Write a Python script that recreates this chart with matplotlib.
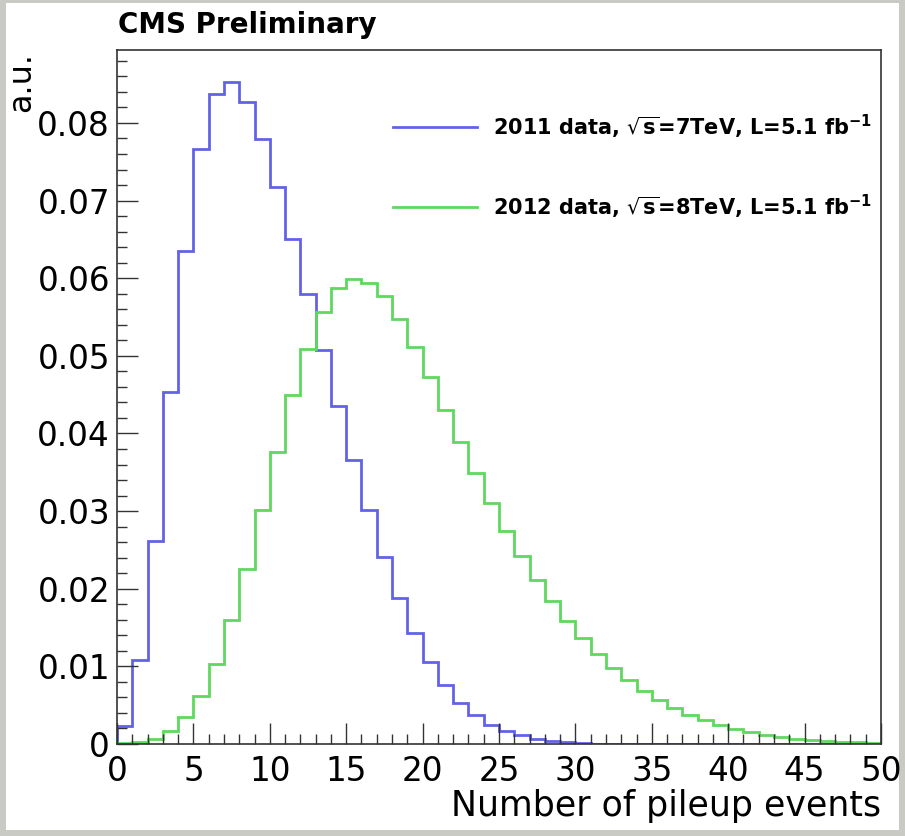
import matplotlib
matplotlib.use("Agg")
import matplotlib.pyplot as plt
from matplotlib.patches import Rectangle
from matplotlib.lines import Line2D
from matplotlib.ticker import MultipleLocator

plt.rcParams['font.family'] = ['DejaVu Sans']
plt.rcParams['mathtext.fontset'] = 'dejavusans'

# ---- data ----
bin_edges = list(range(0, 51))
data_2011 = [0.0023, 0.0108, 0.0261, 0.0454, 0.0635, 0.0767, 0.0837, 0.0853, 0.0827, 0.0779,
             0.0718, 0.0650, 0.0580, 0.0508, 0.0436, 0.0366, 0.0301, 0.0241, 0.0188, 0.0143,
             0.0105, 0.0076, 0.0053, 0.0037, 0.0025, 0.0017, 0.0011, 0.0006, 0.0004, 0.0002,
             0.0001, 0.00006, 0.00003, 0.00002, 0.00001, 0.0, 0.0, 0.0, 0.0, 0.0,
             0.0, 0.0, 0.0, 0.0, 0.0, 0.0, 0.0, 0.0, 0.0, 0.0]
data_2012 = [0.0001, 0.0003, 0.0007, 0.0017, 0.0035, 0.0062, 0.0103, 0.0160, 0.0226, 0.0301,
             0.0376, 0.0450, 0.0509, 0.0557, 0.0587, 0.0599, 0.0594, 0.0577, 0.0547, 0.0512,
             0.0473, 0.0430, 0.0389, 0.0349, 0.0310, 0.0274, 0.0242, 0.0211, 0.0184, 0.0158,
             0.0136, 0.0116, 0.0098, 0.0082, 0.0068, 0.0057, 0.0047, 0.0038, 0.0031, 0.0024,
             0.0019, 0.0015, 0.0012, 0.0009, 0.0007, 0.0005, 0.0004, 0.0003, 0.0002, 0.0001]
labels = [r'2011 data, $\sqrt{\mathbf{s}}$=7TeV, L=5.1 fb$^{\mathbf{-1}}$',
          r'2012 data, $\sqrt{\mathbf{s}}$=8TeV, L=5.1 fb$^{\mathbf{-1}}$']
colors = ['#6262e8', '#5fd85f']
xlabel = 'Number of pileup events'
ylabel = 'a.u.'
title = 'CMS Preliminary'

W, H = 905, 836
fig = plt.figure(figsize=(W / 100, H / 100), dpi=100)
fig.patch.set_facecolor('#c9cac3')
fig.add_artist(Rectangle((6 / W, 6 / H), 893 / W, 827 / H, transform=fig.transFigure,
                         facecolor='white', edgecolor='none', zorder=0))

ax = fig.add_axes([117 / W, 92 / H, 764 / W, 694 / H])
ax.set_facecolor('white')

ax.stairs(data_2011, bin_edges, color=colors[0], linewidth=2.0, baseline=0)
ax.stairs(data_2012, bin_edges, color=colors[1], linewidth=2.0, baseline=0)

ax.set_xlim(0, 50)
ax.set_ylim(0, 0.0894)
ax.xaxis.set_major_locator(MultipleLocator(5))
ax.xaxis.set_minor_locator(MultipleLocator(1))
ax.yaxis.set_major_locator(MultipleLocator(0.01))
ax.yaxis.set_minor_locator(MultipleLocator(0.002))

ax.yaxis.set_major_formatter(plt.FuncFormatter(lambda v, p: '0' if abs(v) < 1e-9 else f'{v:.2f}'))

ax.tick_params(which='both', direction='in', top=False, right=False, color='#333333',
               labelcolor='black')
ax.tick_params(which='major', length=15, width=1.0, labelsize=23.5)
ax.tick_params(which='minor', length=7.5, width=1.0)
ax.tick_params(axis='x', which='major', pad=8)
ax.tick_params(axis='y', which='major', pad=5)
for sp in ax.spines.values():
    sp.set_linewidth(1.2)
    sp.set_color('#333333')

fig.text(881 / W, 1 - 816 / H, xlabel, ha='right', va='baseline', fontsize=25, color='black')
fig.text(22 / W, 1 - 52 / H, ylabel, ha='center', va='top', rotation=90, fontsize=23, color='black')
fig.text(118 / W, 1 - 33 / H, title, ha='left', va='baseline', fontsize=20, fontweight='bold')

# legend (manual placement)
for i, (lab, col) in enumerate(zip(labels, colors)):
    yy = 1 - (127 + 80 * i) / H
    fig.add_artist(Line2D([393 / W, 477 / W], [yy, yy], transform=fig.transFigure,
                          color=col, linewidth=2.0))
    fig.text(493 / W, yy, lab, ha='left', va='center', fontsize=15, fontweight='bold')

fig.savefig('out.png', dpi=100, facecolor=fig.get_facecolor())
